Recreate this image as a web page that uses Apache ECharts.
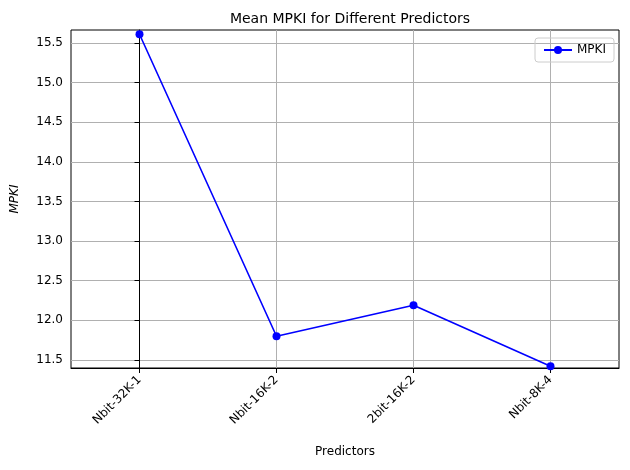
<!DOCTYPE html>
<html>
<head>
<meta charset="utf-8">
<script src="https://cdn.jsdelivr.net/npm/echarts@6/dist/echarts.min.js"></script>
<style>html,body{margin:0;padding:0;background:#fff}#main{width:630px;height:470px}</style>
</head>
<body>
<div id="main"></div>
<script>
var predictors = ['Nbit-32K-1', 'Nbit-16K-2', '2bit-16K-2', 'Nbit-8K-4'];
var mpki = [15.61, 11.80, 12.19, 11.42];
var yTicks = [11.5, 12.0, 12.5, 13.0, 13.5, 14.0, 14.5, 15.0, 15.5];
var xTicks = [0, 1, 2, 3];

var myChart = echarts.init(document.getElementById('main'));
var font = 'DejaVu Sans';
myChart.setOption({
	animation: false,
	textStyle: { fontFamily: font },
	title: {
		text: 'Mean MPKI for Different Predictors',
		left: 345, top: 7, textAlign: 'center',
		textStyle: { fontSize: 14, fontWeight: 'normal', color: '#000', fontFamily: font }
	},
	legend: {
		data: ['MPKI'], right: 16, top: 38,
		borderColor: '#ccc', borderWidth: 1, borderRadius: 3, padding: [6, 8],
		itemWidth: 28, itemHeight: 10,
		textStyle: { fontSize: 12, color: '#000', fontFamily: font }
	},
	grid: { left: 71, right: 11, top: 30, bottom: 102, show: true, borderColor: '#000', borderWidth: 1 },
	xAxis: {
		type: 'value', min: -0.5, max: 3.5,
		name: 'Predictors', nameLocation: 'middle', nameGap: 78,
		nameTextStyle: { fontSize: 12, color: '#000' },
		axisLine: { lineStyle: { color: '#000' } },
		axisTick: { show: true, customValues: xTicks, lineStyle: { color: '#000' } },
		axisLabel: { customValues: xTicks, rotate: 45, fontSize: 12, color: '#000', margin: 10,
			formatter: function (v) { return predictors[Math.round(v)] || ''; } },
		splitLine: { show: true, lineStyle: { color: '#b0b0b0' } }
	},
	yAxis: {
		type: 'value', min: 11.399, max: 15.664,
		name: 'MPKI', nameLocation: 'middle', nameGap: 50,
		nameTextStyle: { fontSize: 12, color: '#000', fontStyle: 'italic' },
		axisLine: { show: true, lineStyle: { color: '#000' } },
		axisTick: { show: true, customValues: yTicks, lineStyle: { color: '#000' } },
		axisLabel: { customValues: yTicks, fontSize: 12, color: '#000',
			formatter: function (v) { return v.toFixed(1); } },
		splitLine: { show: true, lineStyle: { color: '#b0b0b0' } }
	},
	series: [{
		name: 'MPKI', type: 'line',
		data: mpki.map(function (v, i) { return [i, v]; }),
		color: '#0000ff', symbol: 'circle', symbolSize: 8,
		lineStyle: { width: 1.6, color: '#0000ff' },
		itemStyle: { color: '#0000ff' }, clip: false
	}]
});
</script>
</body>
</html>
